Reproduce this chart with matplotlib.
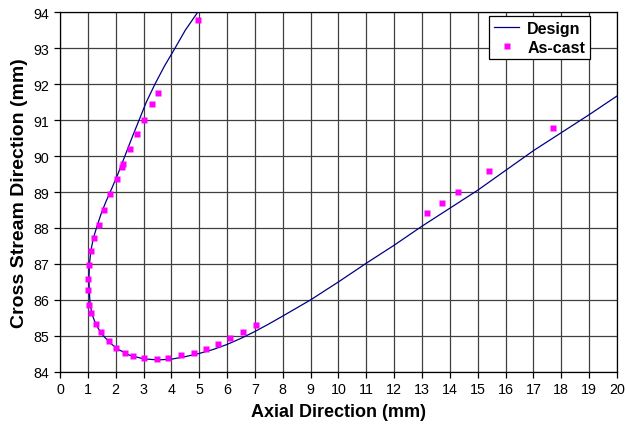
import numpy as np
import matplotlib
matplotlib.use("Agg")
import matplotlib.pyplot as plt

plt.rcParams['font.family'] = ['Liberation Sans', 'DejaVu Sans']

# design profile
design_x = [4.99, 4.5, 4.13, 3.75, 3.41, 3.1, 2.84, 2.58, 2.33, 2.08, 1.86,
            1.66, 1.48, 1.33, 1.2, 1.11, 1.06, 1.04, 1.05, 1.08, 1.15, 1.3, 1.5,
            1.8, 2.1, 2.5, 3.0, 3.5, 4.0, 4.5, 5.0, 5.5, 6.0, 6.5, 7.0,
            7.5, 8.0, 9.0, 10.0, 11.0, 12.0, 13.0, 14.0, 15.0, 16.0, 17.0,
            18.0, 19.0, 20.0]
design_y = [94.05, 93.5, 93.0, 92.5, 92.0, 91.5, 91.0, 90.5, 90.0, 89.5, 89.1,
            88.75, 88.4, 88.05, 87.72, 87.37, 87.0, 86.6, 86.3, 85.9, 85.6, 85.3,
            85.05, 84.8, 84.62, 84.46, 84.36, 84.33, 84.35, 84.42, 84.51, 84.62,
            84.76, 84.93, 85.12, 85.33, 85.55, 86.0, 86.5, 87.02, 87.52, 88.05,
            88.55, 89.05, 89.6, 90.15, 90.65, 91.15, 91.67]

# as-cast measurements
cast_x = [4.97, 3.52, 3.29, 3.02, 2.75, 2.51, 2.25, 2.21, 2.03, 1.81, 1.59,
          1.39, 1.23, 1.11, 1.05, 0.99, 1.00, 1.06, 1.12, 1.28, 1.46, 1.75,
          2.02, 2.33, 2.62, 3.02, 3.47, 3.89, 4.34, 4.80, 5.24, 5.68, 6.12,
          6.57, 7.04, 13.17, 13.71, 14.28, 15.40, 17.70]
cast_y = [93.79, 91.75, 91.45, 91.01, 90.60, 90.19, 89.78, 89.70, 89.36, 88.95,
          88.51, 88.09, 87.72, 87.37, 86.97, 86.57, 86.28, 85.86, 85.63, 85.34,
          85.10, 84.85, 84.66, 84.51, 84.43, 84.38, 84.36, 84.38, 84.46, 84.53,
          84.62, 84.76, 84.93, 85.10, 85.29, 88.42, 88.70, 89.01, 89.59, 90.78]

fig = plt.figure(figsize=(6.26, 4.27), dpi=100)
ax = fig.add_axes([0.0958, 0.127, 0.8898, 0.842])

ax.plot(design_x, design_y, color='#000080', lw=0.9, label='Design', zorder=3)
ax.plot(cast_x, cast_y, 's', color='#FF00FF', ms=4.5, mec='none',
        label='As-cast', zorder=4)

ax.set_xlim(0, 20)
ax.set_ylim(84, 94)
ax.set_xticks(range(0, 21))
ax.set_yticks(range(84, 95))
ax.grid(True, color='#404040', lw=0.9)
ax.set_axisbelow(True)
for s in ax.spines.values():
    s.set_color('black')
    s.set_linewidth(0.9)
ax.tick_params(labelsize=10.3, length=4, width=0.9, direction='out')

ax.set_xlabel('Axial Direction (mm)', fontsize=13, fontweight='bold', labelpad=5)
ax.set_ylabel('Cross Stream Direction (mm)', fontsize=14, fontweight='bold', labelpad=4)

leg = ax.legend(loc='upper right', bbox_to_anchor=(0.9515, 0.99), fancybox=False,
                edgecolor='black', framealpha=1, prop={'weight': 'bold', 'size': 11.5},
                handlelength=1.6, borderpad=0.3, labelspacing=0.25, handletextpad=0.5,
                borderaxespad=0)
leg.get_frame().set_linewidth(0.9)

fig.savefig('out.png', dpi=100)
